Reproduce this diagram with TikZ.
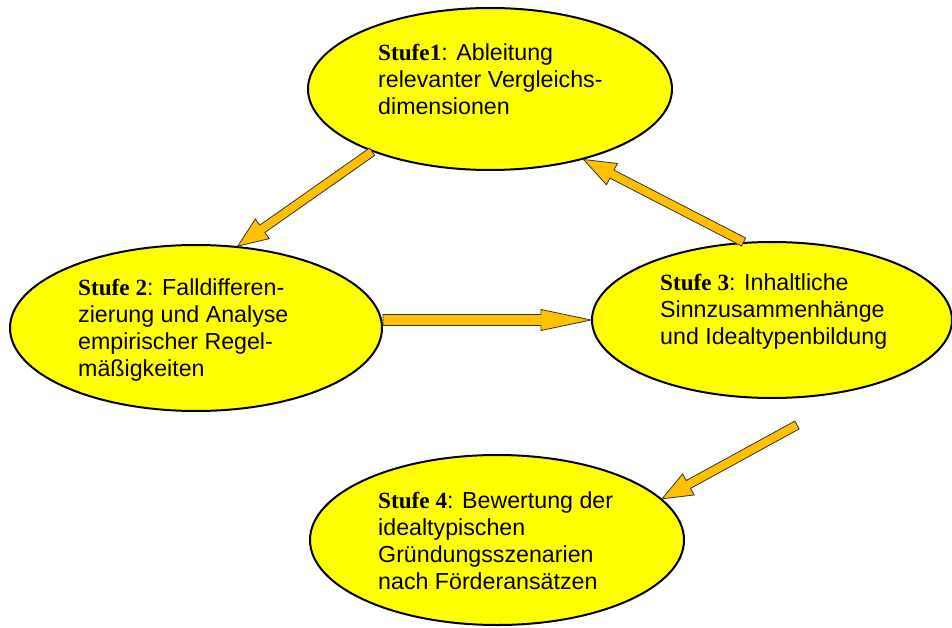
\documentclass[tikz,border=0pt]{standalone}
\usepackage{fontspec}
\setmainfont{Liberation Sans}
\newfontfamily\stufefont{Liberation Serif}
\usetikzlibrary{shapes.geometric,calc}
\definecolor{ellfill}{RGB}{255,255,0}
\definecolor{arrfill}{RGB}{255,192,0}
\tikzset{
  stage/.style={ellipse, draw=black, line width=2pt, fill=ellfill, inner sep=0pt},
  stagetext/.style={anchor=north west, inner sep=0pt, align=left,
    font=\fontsize{23.2}{27.2}\selectfont},
  blockarrow/.style={draw=black!80, line width=0.8pt, fill=arrfill, line join=miter},
}
% block arrow: #1 name, #2 tail, #3 tip, #4 shaft half width,
% #5 head half width, #6 head length
\newcommand\fatarrow[6]{%
  \coordinate (#1-h) at ($(#3)!#6!(#2)$);
  \draw[blockarrow] ($(#2)!#4!90:(#3)$) -- ($(#1-h)!#4!90:(#3)$)
    -- ($(#1-h)!#5!90:(#3)$) -- (#3) -- ($(#1-h)!#5!-90:(#3)$)
    -- ($(#1-h)!#4!-90:(#3)$) -- ($(#2)!#4!-90:(#3)$) -- cycle;
}
\newcommand\stufe[1]{{\stufefont\bfseries #1}}
\begin{document}
\begin{tikzpicture}[x=1pt,y=-1pt]
  \fill[white] (0,0) rectangle (952,628);
  \useasboundingbox (0,0) rectangle (952,628);

  % the four stages
  \node[stage, minimum width=364pt, minimum height=162pt] (s1) at (490,89) {};
  \node[stage, minimum width=372pt, minimum height=166pt] (s2) at (196,328) {};
  \node[stage, minimum width=360pt, minimum height=156pt] (s3) at (772,320) {};
  \node[stage, minimum width=374pt, minimum height=170pt] (s4) at (497,540) {};

  \node[stagetext] (t1) at (378,43)
    {\stufe{Stufe1}: Ableitung\\relevanter Vergleichs-\\dimensionen};
  \node[stagetext] (t2) at (78,278)
    {\stufe{Stufe 2}: Falldifferen-\\zierung und Analyse\\empirischer Regel-\\mäßigkeiten};
  \node[stagetext] (t3) at (660,273)
    {\stufe{Stufe 3}: Inhaltliche\\Sinnzusammenhänge\\und Idealtypenbildung};
  \node[stagetext] (t4) at (378,491)
    {\stufe{Stufe 4}: Bewertung der\\idealtypischen\\Gründungsszenarien\\nach Förderansätzen};

  % connectors
  \coordinate (a4tail) at (797,425);
  \fatarrow{a1}{s1.208}{s2.63}{4.5pt}{12pt}{30pt}
  \fatarrow{a2}{s3.110}{s1.323}{4.5pt}{12pt}{32pt}
  \fatarrow{a3}{s2.east |- s3.west}{s3.west}{5.5pt}{10.5pt}{50pt}
  \fatarrow{a4}{a4tail}{s4.14}{4.5pt}{12pt}{30pt}
\end{tikzpicture}
\end{document}
